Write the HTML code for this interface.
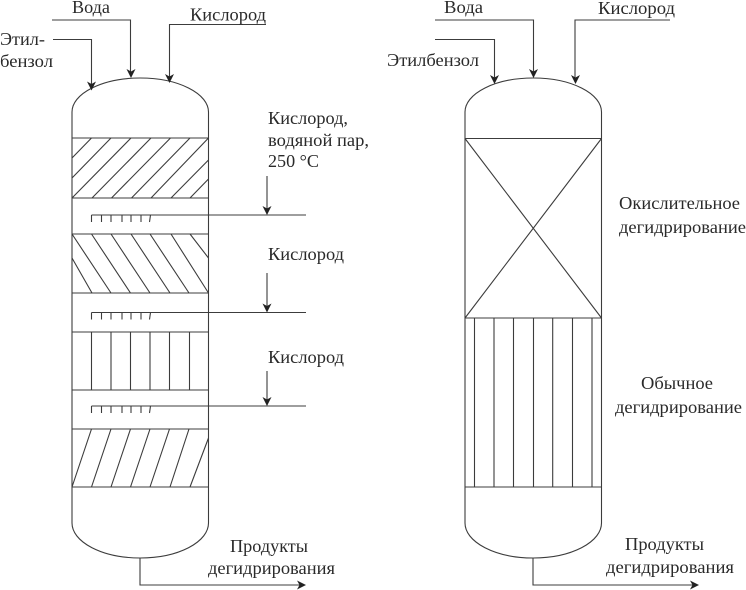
<!DOCTYPE html>
<html><head><meta charset="utf-8"><style>
html,body{margin:0;padding:0;background:#fff}
svg{display:block}
text{font-family:"Liberation Serif","Noto Serif CJK SC",serif;font-size:18px;fill:#2a2a2a}
.l{fill:none;stroke:#3c3c3c;stroke-width:1.1}
.a{fill:#222;stroke:none}
</style></head><body>
<svg width="746" height="590" viewBox="0 0 746 590" xmlns="http://www.w3.org/2000/svg">
<defs>
<path id="d" class="a" d="M-4.5 -9 L0 -6.5 L4.5 -9 L0 0 Z"/>
<path id="r" class="a" d="M-9 -4.5 L-6.5 0 L-9 4.5 L0 0 Z"/>
<g id="sp"><path class="l" d="M91.5 0V7M101.5 0V7M111 0V7M122 0V7M131 0V7M141 0V7M150.5 0L149.5 7"/></g>
</defs>

<!-- Left column -->
<path class="l" d="M72 112V523A68.25 35 0 0 0 208.5 523V112A68.25 34 0 0 0 72 112Z"/>
<path class="l" d="M72 138H208.5M72 198H208.5M72 234H208.5M72 293H208.5M72 332H208.5M72 390H208.5M72 429H208.5M72 487H208.5"/>
<!-- hatch 1 -->
<path class="l" d="M72 158L91.5 138M72 178L111 138M72 198L131 138M92 198L151 138M111.5 198L170.5 138M131.5 198L190 138M151 198L208.5 138M171 198L208.5 160M190 198L208.5 179"/>
<!-- hatch 2 -->
<path class="l" d="M72 234L111 293M91.5 234L130.5 293M111 234L150 293M131 234L170 293M150 234L189 293M171 234L208.5 293M190 234L208.5 258M72 258L92 293"/>
<!-- verticals -->
<path class="l" d="M91.5 332V390M111 332V390M130.5 332V390M150 332V390M169.5 332V390M189.5 332V390"/>
<!-- hatch 4 -->
<path class="l" d="M91.5 429L72 487M111 429L91.5 487M130.5 429L111 487M150 429L130.5 487M169.5 429L150 487M189 429L170 487M208.5 438L190 487"/>
<!-- spargers -->
<path class="l" d="M91.5 215H306M91.5 312.5H306M91.5 406H306"/>
<use href="#sp" x="0" y="215"/><use href="#sp" x="0" y="312.5"/><use href="#sp" x="0" y="406"/>
<!-- side arrows -->
<path class="l" d="M267 176V214M267 273V311M267 371V405"/>
<use href="#d" x="267" y="215"/><use href="#d" x="267" y="312.5"/><use href="#d" x="267" y="406"/>
<!-- top inlets -->
<path class="l" d="M52 20H130.5V76M266 24.500H169.500V81M53 39.500H91.500V89"/>
<use href="#d" x="131" y="78"/><use href="#d" x="169.500" y="83"/><use href="#d" x="91.500" y="90.500"/>
<!-- outlet -->
<path class="l" d="M140 558V585H304"/>
<use href="#r" x="306" y="585"/>

<!-- Right column -->
<path class="l" d="M465 112V523A68.25 35 0 0 0 601.500 523V112A68.25 34 0 0 0 465 112Z"/>
<path class="l" d="M465 138.500H601.500M465 318H601.500M465 487H601.500"/>
<path class="l" d="M465 138.500L601.500 318M601.500 138.500L465 318"/>
<path class="l" d="M474.500 318V487M494 318V487M513.500 318V487M533.500 318V487M552.700 318V487M572.500 318V487M592 318V487"/>
<path class="l" d="M435 20H533.500V76M670 20H575V82M435 39.500H494.500V82"/>
<use href="#d" x="533.500" y="78"/><use href="#d" x="575.500" y="84"/><use href="#d" x="494.500" y="84"/>
<path class="l" d="M533 558V585H697"/>
<use href="#r" x="699" y="585"/>

<!-- Labels left -->
<text x="72" y="13" textLength="38" lengthAdjust="spacingAndGlyphs">Вода</text>
<text x="190" y="20.500" textLength="76" lengthAdjust="spacingAndGlyphs">Кислород</text>
<text x="0" y="45" textLength="45" lengthAdjust="spacingAndGlyphs">Этил-</text>
<text x="0" y="67" textLength="53" lengthAdjust="spacingAndGlyphs">бензол</text>
<text x="268" y="124" textLength="80" lengthAdjust="spacingAndGlyphs">Кислород,</text>
<text x="268" y="146" textLength="101" lengthAdjust="spacingAndGlyphs">водяной пар,</text>
<text x="268" y="167" textLength="51" lengthAdjust="spacingAndGlyphs">250 °C</text>
<text x="268" y="260" textLength="76" lengthAdjust="spacingAndGlyphs">Кислород</text>
<text x="268" y="363" textLength="76" lengthAdjust="spacingAndGlyphs">Кислород</text>
<text x="230" y="552" textLength="78" lengthAdjust="spacingAndGlyphs">Продукты</text>
<text x="208" y="574" textLength="127" lengthAdjust="spacingAndGlyphs">дегидрирования</text>

<!-- Labels right -->
<text x="444" y="13" textLength="39" lengthAdjust="spacingAndGlyphs">Вода</text>
<text x="598" y="14" textLength="77" lengthAdjust="spacingAndGlyphs">Кислород</text>
<text x="387" y="66" textLength="92" lengthAdjust="spacingAndGlyphs">Этилбензол</text>
<text x="619" y="209" textLength="121" lengthAdjust="spacingAndGlyphs">Окислительное</text>
<text x="619" y="233" textLength="127" lengthAdjust="spacingAndGlyphs">дегидрирование</text>
<text x="641" y="389" textLength="72" lengthAdjust="spacingAndGlyphs">Обычное</text>
<text x="615" y="413" textLength="127" lengthAdjust="spacingAndGlyphs">дегидрирование</text>
<text x="625" y="550" textLength="79" lengthAdjust="spacingAndGlyphs">Продукты</text>
<text x="606" y="573" textLength="128" lengthAdjust="spacingAndGlyphs">дегидрирования</text>
</svg>
</body></html>
